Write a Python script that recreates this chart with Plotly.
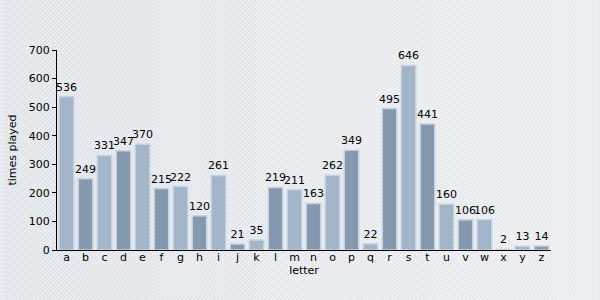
import base64, struct, zlib
import plotly.graph_objects as go

letters = list("abcdefghijklmnopqrstuvwxyz")
times_played = [536, 249, 331, 347, 370, 215, 222, 120, 261, 21, 35, 219, 211, 163,
                262, 349, 22, 495, 646, 441, 160, 106, 106, 2, 13, 14]
y_ticks = [0, 100, 200, 300, 400, 500, 600, 700]

W, H = 600, 300
ML, MR, MT, MB = 52, 49, 50, 50

# striped background image (decorative)
def make_png(w, h):
    rows = []
    for y in range(h):
        row = bytearray([0])
        for x in range(w):
            t = x / w
            if (x + y) % 4 == 0:
                c = (int(214 + 14 * t), int(219 + 12 * t), int(225 + 10 * t))
            else:
                c = (int(234 + 7 * t), int(237 + 5 * t), int(240 + 4 * t))
            row += bytes(c)
        rows.append(bytes(row))
    raw = b"".join(rows)
    def chunk(tag, data):
        return struct.pack(">I", len(data)) + tag + data + struct.pack(">I", zlib.crc32(tag + data) & 0xffffffff)
    png = b"\x89PNG\r\n\x1a\n" + chunk(b"IHDR", struct.pack(">IIBBBBB", w, h, 8, 2, 0, 0, 0))
    png += chunk(b"IDAT", zlib.compress(raw, 9)) + chunk(b"IEND", b"")
    return "data:image/png;base64," + base64.b64encode(png).decode()

colors = ["#a2b5c9" if i % 2 == 0 else "#8599ae" for i in range(len(letters))]

fig = go.Figure(go.Bar(
    x=letters, y=times_played,
    marker=dict(color=colors, line=dict(color="#c4d3e1", width=1.5)),
    text=[str(v) for v in times_played], textposition="outside",
    textfont=dict(family="DejaVu Sans", size=11, color="#000"),
    cliponaxis=False, width=0.76,
))

pw, ph = W - ML - MR, H - MT - MB
fig.add_layout_image(dict(
    source=make_png(W, H), xref="paper", yref="paper",
    x=-ML / pw, y=1 + MT / ph, sizex=W / pw, sizey=H / ph,
    sizing="stretch", layer="below", xanchor="left", yanchor="top"))

fig.update_layout(
    width=W, height=H, margin=dict(l=ML, r=MR, t=MT, b=MB),
    paper_bgcolor="#e8ecf0", plot_bgcolor="rgba(0,0,0,0)",
    font=dict(family="DejaVu Sans", size=11, color="#000"),
    showlegend=False, bargap=0.24,
    uniformtext=dict(minsize=11, mode="show"),
    xaxis=dict(showline=True, linecolor="#000", linewidth=1, showgrid=False,
               ticks="", tickfont=dict(size=11), ticklen=0, ticklabelstandoff=-3,
               title=dict(text="letter", font=dict(size=11), standoff=0)),
    yaxis=dict(range=[0, 700], tickvals=y_ticks, showline=True, linecolor="#000",
               linewidth=1, showgrid=False, zeroline=False, ticks="outside",
               ticklen=4, tickcolor="#000", tickfont=dict(size=11),
               title=dict(text="times played", font=dict(size=11), standoff=9)),
)
fig.write_html("out.html")
